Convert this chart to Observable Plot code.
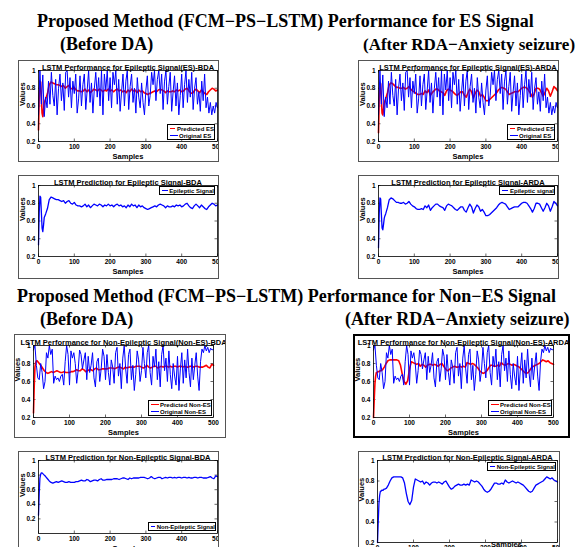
<!DOCTYPE html>
<html>
<head>
<meta charset="utf-8">
<script src="https://cdn.jsdelivr.net/npm/d3@7"></script>
<script src="https://cdn.jsdelivr.net/npm/@observablehq/plot@0.6"></script>
<style>
  body { margin: 0; background: #fff; }
  #page { position: relative; width: 576px; height: 547px; overflow: hidden; background: #fff; }
  .head { position: absolute; font-family: "Liberation Serif", "Times New Roman", serif; font-weight: bold;
          font-size: 18px; line-height: 18px; white-space: nowrap; color: #000; }
  .panel { position: absolute; box-sizing: border-box; overflow: hidden; background: #fff; }
  .panel svg { position: absolute; }
  .legend { position: absolute; box-sizing: border-box; border: 0.8px solid #000; background: #fff;
            font: bold 6px "Liberation Sans", Arial, sans-serif; color: #000; display: flex; flex-direction: column; }
  .legend .row { flex: 1; display: flex; align-items: center; white-space: nowrap; }
  .legend .swatch { display: inline-block; width: 8px; height: 0; margin: 0 1.5px 0 1.5px; }
</style>
</head>
<body>
<div id="page"></div>
<script>
// ---- Headings ----
const headingES = "Proposed Method (FCM\u2212PS\u2212LSTM) Performance for ES Signal";
const headingNonES = "Proposed Method (FCM\u2212PS\u2212LSTM) Performance for Non\u2212ES Signal";
const subBefore = "(Before DA)";
const subAfter = "(After RDA\u2212Anxiety seizure)";

// ---- Axis ticks ----
const xTicks = [0, 100, 200, 300, 400, 500];
const yTicks = [0.2, 0.4, 0.6, 0.8, 1];

// ---- Original signals (every 4th sample, 0..500) ----
const originalStep = 4;
const esOriginal = [
  0.50,1.00,0.62,0.95,0.48,0.70,0.58,0.88,0.62,0.98,
  0.72,0.60,0.90,0.50,0.80,0.96,0.66,0.86,0.55,0.98,
  1.00,0.70,0.92,0.58,0.88,0.74,0.96,0.52,0.68,0.94,
  0.60,0.84,0.96,0.56,0.78,1.00,0.64,0.86,0.52,0.80,
  0.98,0.70,0.92,0.60,1.00,0.50,0.96,0.78,1.00,0.66,
  0.92,0.58,0.98,0.84,1.00,0.62,0.90,0.54,0.76,0.96,
  0.60,0.88,1.00,0.56,0.82,0.96,0.64,0.80,0.52,0.92,
  0.70,0.58,0.86,0.64,0.50,0.78,0.94,0.60,0.72,0.98,
  0.84,1.00,0.66,0.90,1.00,0.74,0.96,0.56,0.88,1.00,
  0.62,0.82,0.98,0.54,0.76,0.94,0.60,0.86,0.50,0.72,
  0.96,0.58,0.84,1.00,0.64,0.90,0.70,0.98,0.56,0.80,
  0.92,0.62,0.76,0.54,0.88,0.66,0.96,0.58,0.70,0.52,
  0.64,0.50,0.60,0.52,0.64,0.58
];
const nonEsOriginal = [
  0.95,1.00,0.78,0.64,0.62,0.80,0.70,0.52,0.60,0.92,
  0.86,1.00,0.90,0.96,0.58,0.66,0.62,0.64,0.60,0.66,
  0.68,0.56,0.82,1.00,0.90,0.56,0.94,0.86,0.92,0.80,
  0.58,0.72,0.95,0.90,0.74,0.84,0.92,0.62,0.88,0.70,
  0.78,0.92,0.64,0.54,0.82,0.86,0.60,0.74,0.96,0.88,
  0.62,0.90,0.70,0.56,0.84,0.76,0.58,0.92,0.98,0.66,
  0.80,0.52,0.86,1.00,0.74,0.58,0.90,0.96,0.62,0.78,
  0.50,0.68,0.94,0.84,0.60,0.72,0.98,0.80,0.64,0.92,
  1.00,0.70,0.56,0.88,0.76,0.96,0.62,0.82,0.54,0.90,
  1.00,0.72,0.86,0.60,0.94,0.68,0.52,0.80,0.66,0.56,
  0.88,0.50,0.74,0.92,0.58,0.84,0.64,0.96,0.70,0.54,
  0.86,0.62,0.78,0.92,0.66,0.50,0.82,0.96,0.92,1.00,
  0.94,0.98,0.92,0.97,0.95,0.96
];

// ---- LSTM predictions (samples 0..20 every 2, then every 5 up to 500) ----
const predSamples = d3.range(0, 21, 2).concat(d3.range(25, 501, 5));
const esPredBDA = [
  0.33,0.70,0.88,0.87,0.70,0.52,0.48,0.55,0.64,0.66,0.68,
  0.74,0.84,0.87,0.86,0.85,0.84,0.84,0.83,0.82,0.83,
  0.80,0.82,0.83,0.80,0.79,0.81,0.78,0.77,0.77,0.76,
  0.77,0.79,0.76,0.78,0.75,0.77,0.79,0.78,0.77,0.79,
  0.78,0.76,0.78,0.77,0.79,0.77,0.78,0.76,0.78,0.79,
  0.77,0.78,0.76,0.77,0.75,0.78,0.76,0.79,0.77,0.78,
  0.75,0.78,0.76,0.77,0.75,0.74,0.73,0.74,0.75,0.76,
  0.77,0.76,0.78,0.79,0.78,0.77,0.75,0.77,0.76,0.76,
  0.77,0.76,0.78,0.77,0.78,0.76,0.77,0.79,0.80,0.77,
  0.75,0.74,0.77,0.79,0.77,0.75,0.78,0.76,0.74,0.73,
  0.76,0.78,0.80,0.79,0.77,0.78
];
const esPredARDA = [
  0.30,0.68,0.86,0.85,0.68,0.52,0.50,0.56,0.63,0.66,0.68,
  0.75,0.84,0.86,0.85,0.83,0.81,0.81,0.80,0.80,0.81,
  0.79,0.80,0.82,0.79,0.77,0.76,0.74,0.73,0.73,0.74,
  0.73,0.77,0.75,0.78,0.72,0.75,0.77,0.79,0.79,0.77,
  0.76,0.75,0.72,0.77,0.79,0.78,0.77,0.75,0.73,0.72,
  0.74,0.76,0.76,0.72,0.70,0.75,0.79,0.76,0.69,0.74,
  0.78,0.76,0.71,0.73,0.70,0.66,0.66,0.67,0.69,0.71,
  0.73,0.75,0.78,0.80,0.81,0.80,0.79,0.76,0.73,0.74,
  0.75,0.76,0.76,0.76,0.78,0.80,0.81,0.81,0.80,0.77,
  0.74,0.70,0.74,0.80,0.80,0.79,0.75,0.71,0.75,0.80,
  0.77,0.71,0.76,0.82,0.80,0.77
];
const nonEsPredBDA = [
  0.25,0.55,0.76,0.81,0.83,0.83,0.82,0.81,0.80,0.79,0.78,
  0.75,0.72,0.70,0.69,0.70,0.71,0.70,0.71,0.72,0.71,
  0.70,0.70,0.71,0.70,0.70,0.70,0.71,0.71,0.72,0.73,
  0.72,0.72,0.74,0.73,0.71,0.72,0.73,0.73,0.72,0.74,
  0.75,0.73,0.73,0.74,0.74,0.74,0.74,0.75,0.75,0.75,
  0.74,0.75,0.76,0.76,0.75,0.74,0.76,0.75,0.76,0.76,
  0.76,0.76,0.77,0.77,0.77,0.76,0.75,0.76,0.78,0.76,
  0.75,0.76,0.77,0.77,0.75,0.76,0.77,0.76,0.77,0.77,
  0.76,0.77,0.76,0.77,0.77,0.76,0.77,0.77,0.76,0.77,
  0.76,0.76,0.77,0.77,0.76,0.77,0.77,0.76,0.76,0.76,
  0.77,0.78,0.76,0.75,0.79,0.78
];
const nonEsPredARDA = [
  0.20,0.40,0.58,0.66,0.70,0.70,0.71,0.71,0.71,0.72,0.72,
  0.73,0.76,0.80,0.83,0.84,0.84,0.84,0.84,0.84,0.83,
  0.78,0.68,0.60,0.57,0.61,0.74,0.82,0.81,0.80,0.79,
  0.80,0.77,0.79,0.78,0.76,0.78,0.79,0.79,0.78,0.79,
  0.78,0.77,0.79,0.80,0.77,0.74,0.72,0.73,0.75,0.76,
  0.77,0.76,0.76,0.77,0.76,0.77,0.76,0.81,0.80,0.79,
  0.80,0.79,0.77,0.75,0.72,0.70,0.69,0.70,0.72,0.75,
  0.78,0.78,0.77,0.77,0.78,0.77,0.81,0.79,0.78,0.79,
  0.80,0.79,0.78,0.79,0.78,0.77,0.76,0.74,0.72,0.70,
  0.69,0.70,0.73,0.76,0.77,0.78,0.79,0.80,0.82,0.84,
  0.83,0.82,0.83,0.81,0.80,0.79
];

const originalSamples = esOriginal.map((_, i) => i * originalStep);

const RED = "#ff0000", BLUE = "#0000ff";
const pred = (y) => ({x: predSamples, y});
const orig = (y) => ({x: originalSamples, y});

// ---- Panel layout (page pixels) ----
const panels = [
  {frame: [18, 60, 201, 102], border: "1px solid #555", plot: [38, 70, 217, 141], yDomain: [0.2, 1],
   title: "LSTM Performance for Epileptic Signal(ES)-BDA",
   lines: [{...pred(esPredBDA), color: RED, width: 1.6}, {...orig(esOriginal), color: BLUE, width: 1}],
   legend: {box: [167, 124, 215, 140], items: [["Predicted ES", RED], ["Original ES", BLUE]]}},
  {frame: [358, 60, 201, 102], border: "1px solid #555", plot: [378, 70, 557, 141], yDomain: [0.2, 1],
   title: "LSTM Performance for Epileptic Signal(ES)-ARDA",
   lines: [{...pred(esPredARDA), color: RED, width: 1.6}, {...orig(esOriginal), color: BLUE, width: 1}],
   legend: {box: [507, 124, 555, 140], items: [["Predicted ES", RED], ["Original ES", BLUE]]}},
  {frame: [18, 175, 201, 104], border: "1px solid #555", plot: [38, 185, 217, 256], yDomain: [0.2, 1],
   title: "LSTM Prediction for Epileptic Signal-BDA",
   lines: [{...pred(esPredBDA), color: BLUE, width: 1.3}],
   legend: {box: [159, 186, 215, 195], items: [["Epileptic Signal", BLUE]]}},
  {frame: [358, 175, 201, 104], border: "1px solid #555", plot: [378, 185, 557, 256], yDomain: [0.2, 1],
   title: "LSTM Prediction for Epileptic Signal-ARDA",
   lines: [{...pred(esPredARDA), color: BLUE, width: 1.3}],
   legend: {box: [499, 186, 555, 195], items: [["Epileptic signal", BLUE]]}},
  {frame: [14, 334, 212, 104], border: "1px solid #555", plot: [33, 345, 213, 417], yDomain: [0.2, 1],
   title: "LSTM Performance for Non-Epileptic Signal(Non-ES)-BDA",
   lines: [{...pred(nonEsPredBDA), color: RED, width: 1.6}, {...orig(nonEsOriginal), color: BLUE, width: 1}],
   legend: {box: [148, 400, 212, 416], items: [["Predicted Non-ES", RED], ["Original  Non-ES", BLUE]]}},
  {frame: [353, 334, 217, 104], border: "2px solid #000", plot: [373, 345, 553, 417], yDomain: [0.2, 1],
   title: "LSTM Performance for Non-Epileptic Signal(Non-ES)-ARDA",
   lines: [{...pred(nonEsPredARDA), color: RED, width: 1.6}, {...orig(nonEsOriginal), color: BLUE, width: 1}],
   legend: {box: [488, 400, 552, 416], items: [["Predicted Non-ES", RED], ["Original Non-ES", BLUE]]}},
  {frame: [18, 451, 201, 110], border: "1px solid #555", plot: [38, 460, 217, 533], yDomain: [0, 1],
   title: "LSTM Prediction for Non-Epileptic Signal-BDA",
   lines: [{...pred(nonEsPredBDA), color: BLUE, width: 1.3}],
   legend: {box: [148, 522, 216, 531], items: [["Non-Epileptic Signal", BLUE]]}},
  {frame: [358, 451, 202, 110], border: "1px solid #555", plot: [377, 460, 557, 542], yDomain: [0.2, 1],
   title: "LSTM Prediction for Non-Epileptic Signal-ARDA", xLabelShift: [39, -13],
   lines: [{...pred(nonEsPredARDA), color: BLUE, width: 1.3}],
   legend: {box: [487, 462, 556, 471], items: [["Non-Epileptic Signal", BLUE]]}}
];

const page = document.getElementById("page");

function addHeading(text, left, top, size) {
  const d = document.createElement("div");
  d.className = "head";
  d.textContent = text;
  d.style.left = left + "px";
  d.style.top = top + "px";
  if (size) d.style.fontSize = size + "px";
  page.appendChild(d);
}
addHeading(headingES, 37, 12);
addHeading(subBefore, 60, 35);
addHeading(subAfter, 363, 35.5, 17);
addHeading(headingNonES, 17, 287);
addHeading(subBefore, 40, 310);
addHeading(subAfter, 345, 310);

const fmt = d3.format("~g");
const M = {left: 40, right: 20, top: 20, bottom: 26};

function drawPanel(p) {
  const [fx, fy, fw, fh] = p.frame;
  const div = document.createElement("div");
  div.className = "panel";
  Object.assign(div.style, {left: fx + "px", top: fy + "px", width: fw + "px", height: fh + "px", border: p.border});
  page.appendChild(div);
  const b = parseFloat(p.border);

  const [x0, y0, x1, y1] = p.plot;
  const pw = x1 - x0, ph = y1 - y0;
  const [sdx, sdy] = p.xLabelShift || [0, 0];
  const font = {fontFamily: "Liberation Sans, Arial, sans-serif", fontWeight: "bold", fill: "#000"};

  const chart = Plot.plot({
    width: pw + M.left + M.right,
    height: ph + M.top + M.bottom,
    marginLeft: M.left, marginRight: M.right, marginTop: M.top, marginBottom: M.bottom,
    x: {domain: [0, 500]},
    y: {domain: p.yDomain},
    style: {background: "transparent", color: "#000", maxWidth: "none", overflow: "visible",
            fontFamily: "Liberation Sans, Arial, sans-serif"},
    marks: [
      Plot.axisX({ticks: xTicks, tickSize: 0, tickPadding: 3, tickFormat: fmt, label: null, fontSize: 6.5, ...font}),
      Plot.axisY({ticks: yTicks, tickSize: 0, tickPadding: 3, tickFormat: fmt, label: null, fontSize: 6.5, ...font}),
      // inward tick marks on all four sides of the box
      Plot.tickX(xTicks, {x: d => d, insetTop: ph - 2.5, stroke: "#000", strokeWidth: 0.6}),
      Plot.tickX(xTicks, {x: d => d, insetBottom: ph - 2.5, stroke: "#000", strokeWidth: 0.6}),
      Plot.tickY(yTicks, {y: d => d, insetRight: pw - 2.5, stroke: "#000", strokeWidth: 0.6}),
      Plot.tickY(yTicks, {y: d => d, insetLeft: pw - 2.5, stroke: "#000", strokeWidth: 0.6}),
      ...p.lines.map(s => Plot.line(s.y, {x: (d, i) => s.x[i], y: d => d, stroke: s.color, strokeWidth: s.width})),
      Plot.frame({stroke: "#000", strokeWidth: 0.8}),
      Plot.text([p.title], {text: d => d, frameAnchor: "top", lineAnchor: "bottom", dy: -1, fontSize: 7.5, ...font}),
      Plot.text(["Values"], {text: d => d, frameAnchor: "left", rotate: -90, dx: -15.5, fontSize: 7.5, ...font}),
      Plot.text(["Samples"], {text: d => d, frameAnchor: "bottom", lineAnchor: "middle", dx: sdx, dy: 15 + sdy, fontSize: 7.5, ...font})
    ]
  });
  chart.style.left = (x0 - M.left - fx - b) + "px";
  chart.style.top = (y0 - M.top - fy - b) + "px";
  div.appendChild(chart);

  // legend box
  const [lx0, ly0, lx1, ly1] = p.legend.box;
  const lg = document.createElement("div");
  lg.className = "legend";
  Object.assign(lg.style, {left: (lx0 - fx - b) + "px", top: (ly0 - fy - b) + "px",
                           width: (lx1 - lx0) + "px", height: (ly1 - ly0) + "px"});
  for (const [label, color] of p.legend.items) {
    const row = document.createElement("div");
    row.className = "row";
    const sw = document.createElement("span");
    sw.className = "swatch";
    sw.style.borderTop = `1.5px solid ${color}`;
    const tx = document.createElement("span");
    tx.textContent = label;
    row.appendChild(sw);
    row.appendChild(tx);
    lg.appendChild(row);
  }
  div.appendChild(lg);
}

panels.forEach(drawPanel);
</script>
</body>
</html>
